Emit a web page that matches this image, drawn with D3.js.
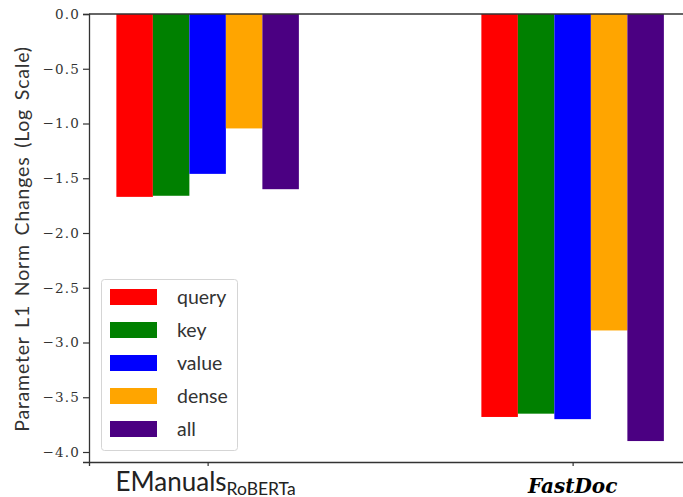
<!DOCTYPE html>
<html>
<head>
<meta charset="utf-8">
<script src="https://cdn.jsdelivr.net/npm/d3@7"></script>
<style>
  html, body { margin: 0; padding: 0; background: #fff; }
  svg { display: block; }
</style>
</head>
<body>
<svg id="chart" width="683" height="497"></svg>
<script>
// Groups, series and values (log-scale L1 norm change of parameters)
const groups = ["EManuals", "FastDoc"];
const series = ["query", "key", "value", "dense", "all"];
const colors = ["#ff0000", "#008000", "#0000ff", "#ffa500", "#4b0082"];
const emanualsValues = [-1.67, -1.66, -1.46, -1.045, -1.60];
const fastdocValues = [-3.68, -3.65, -3.70, -2.89, -3.90];
const yTicks = [0.0, -0.5, -1.0, -1.5, -2.0, -2.5, -3.0, -3.5, -4.0];

const valuesByGroup = [emanualsValues, fastdocValues];
const barWidth = 0.1;

const svg = d3.select("#chart");
const margin = { left: 89, top: 14, bottom: 462 };

const x = d3.scaleLinear().domain([-0.325, 1.325]).range([margin.left, margin.left + 1.65 * 365]);
const y = d3.scaleLinear().domain([-4.0913, 0]).range([margin.bottom, margin.top]);

// Bars
const rows = [];
valuesByGroup.forEach((vals, gi) => {
  vals.forEach((v, si) => {
    rows.push({ g: gi, s: si, v: v, pos: gi + (si - 2) * barWidth });
  });
});

svg.append("g").selectAll("rect").data(rows).join("rect")
  .attr("x", d => x(d.pos - barWidth / 2))
  .attr("width", d => x(d.pos + barWidth / 2) - x(d.pos - barWidth / 2))
  .attr("y", y(0))
  .attr("height", d => y(d.v) - y(0))
  .attr("fill", d => colors[d.s]);

// Y axis
const yAxis = d3.axisLeft(y).tickValues(yTicks).tickSize(6).tickPadding(3)
  .tickFormat(d => (d < 0 ? "\u2212" : "") + Math.abs(d).toFixed(1));
const gy = svg.append("g").attr("transform", `translate(${margin.left},0)`).call(yAxis);
gy.select(".domain").attr("stroke", "#333").attr("stroke-width", 1.3);
gy.selectAll(".tick line").attr("stroke", "#333").attr("stroke-width", 1.2);
gy.selectAll(".tick text")
  .attr("font-family", "'DejaVu Serif', serif")
  .attr("font-size", 13.5)
  .attr("letter-spacing", 1.2)
  .attr("fill", "#333");

// X axis
const xAxis = d3.axisBottom(x).tickValues([0, 1]).tickSize(4).tickFormat("");
const gx = svg.append("g").attr("transform", `translate(0,${margin.bottom})`).call(xAxis);
gx.select(".domain").attr("stroke", "#333").attr("stroke-width", 1.3);
gx.selectAll(".tick line").attr("stroke", "#333").attr("stroke-width", 1.2);

// Top spine
svg.append("line")
  .attr("x1", margin.left).attr("x2", 683)
  .attr("y1", margin.top).attr("y2", margin.top)
  .attr("stroke", "#333").attr("stroke-width", 1.3);

// X group labels
const lab1 = svg.append("text")
  .attr("x", x(0) - 2).attr("y", 491)
  .attr("text-anchor", "middle")
  .attr("font-family", "Lato, sans-serif")
  .attr("font-size", 26)
  .attr("fill", "#222");
lab1.append("tspan").text(groups[0]);
lab1.append("tspan").attr("font-size", 17.5).attr("dy", 3.5).text("RoBERTa");

svg.append("text")
  .attr("x", x(1)).attr("y", 493)
  .attr("text-anchor", "middle")
  .attr("font-family", "'DejaVu Serif', serif")
  .attr("font-style", "italic")
  .attr("font-weight", "bold")
  .attr("font-size", 20)
  .attr("fill", "#000")
  .text(groups[1]);

// Y label
svg.append("text")
  .attr("transform", "translate(29,239) rotate(-90)")
  .attr("text-anchor", "middle")
  .attr("font-family", "Lato, sans-serif")
  .attr("font-size", 19.5)
  .attr("letter-spacing", 0.8)
  .attr("word-spacing", 3)
  .attr("fill", "#333")
  .text("Parameter L1 Norm Changes (Log Scale)");

// Legend
const legend = svg.append("g");
legend.append("rect")
  .attr("x", 101.5).attr("y", 279.5)
  .attr("width", 136).attr("height", 171)
  .attr("rx", 3)
  .attr("fill", "#fff").attr("fill-opacity", 0.85)
  .attr("stroke", "#d5d5d5").attr("stroke-width", 1);
series.forEach((name, i) => {
  const cy = 297 + i * 33;
  legend.append("rect")
    .attr("x", 110).attr("y", cy - 8)
    .attr("width", 47).attr("height", 16)
    .attr("fill", colors[i]);
  legend.append("text")
    .attr("x", 177).attr("y", cy + 7)
    .attr("font-family", "Lato, sans-serif")
    .attr("font-size", 19.5)
    .attr("fill", "#333")
    .text(name);
});
</script>
</body>
</html>
